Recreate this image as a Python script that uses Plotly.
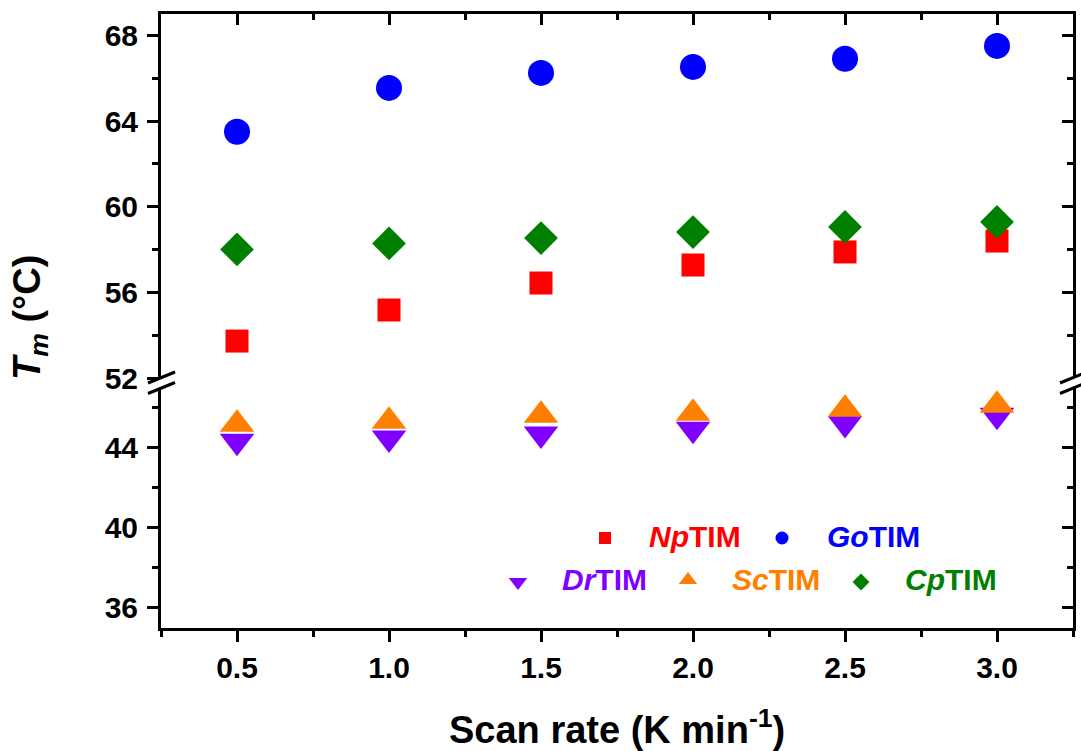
import plotly.graph_objects as go

# ---------------- data ----------------
rates = [0.5, 1.0, 1.5, 2.0, 2.5, 3.0]
np_tim = [53.73, 55.18, 56.44, 57.28, 57.89, 58.40]
go_tim = [63.50, 65.55, 66.25, 66.53, 66.91, 67.51]
dr_tim = [44.33, 44.50, 44.70, 44.93, 45.22, 45.64]
sc_tim = [45.19, 45.34, 45.64, 45.74, 45.94, 46.14]
cp_tim = [58.01, 58.29, 58.54, 58.82, 59.06, 59.29]

upper_ticks = [52, 56, 60, 64, 68]
lower_ticks = [36, 40, 44]
x_ticks = [0.5, 1.0, 1.5, 2.0, 2.5, 3.0]

series = [
    ("Np", np_tim, "square", "#FF0000", 23, "y2"),
    ("Go", go_tim, "circle", "#0000FF", 26, "y2"),
    ("Dr", dr_tim, "triangle-down", "#8000FF", 30, "y"),
    ("Sc", sc_tim, "triangle-up", "#FF8000", 30, "y"),
    ("Cp", cp_tim, "diamond", "#008000", 26, "y2"),
]

FONT = "Liberation Sans, Arial, sans-serif"
W, H = 1081, 751
ML, MR, MT, MB = 161, 8, 14, 123
PW, PH = W - ML - MR, H - MT - MB

def px(xp):
    return (xp - ML) / PW

def py(yp):
    return (H - MB - yp) / PH

fig = go.Figure()

for name, vals, sym, col, size, yax in series:
    fig.add_trace(go.Scatter(
        x=rates, y=vals, mode="markers", xaxis="x", yaxis=yax,
        marker=dict(symbol=sym, color=col, size=size, line=dict(width=0)),
        showlegend=False, name=name + "TIM"))

# invisible copies on the mirror axes so those axes are built and drawn
fig.add_trace(go.Scatter(x=rates, y=go_tim, mode="markers", xaxis="x2",
                         yaxis="y4", marker=dict(opacity=0),
                         showlegend=False, hoverinfo="skip"))
fig.add_trace(go.Scatter(x=rates, y=sc_tim, mode="markers", xaxis="x",
                         yaxis="y3", marker=dict(opacity=0),
                         showlegend=False, hoverinfo="skip"))

# ---------------- legend (manual) ----------------
legend_items = [
    ("Np", "square", "#FF0000", 12, 605, 538, 647, 536.5),
    ("Go", "circle", "#0000FF", 13, 782, 538, 825, 536.5),
    ("Dr", "triangle-down", "#8000FF", 16, 518, 582, 560, 579),
    ("Sc", "triangle-up", "#FF8000", 16, 688, 580, 730, 579),
    ("Cp", "diamond", "#008000", 13, 861, 582, 903, 579),
]
for name, sym, col, size, mx, my, tx, ty in legend_items:
    fig.add_trace(go.Scatter(
        x=[px(mx)], y=[py(my)], mode="markers", xaxis="x3", yaxis="y5",
        marker=dict(symbol=sym, color=col, size=size, line=dict(width=0)),
        showlegend=False, hoverinfo="skip"))
    fig.add_annotation(
        x=px(tx), y=py(ty), xref="paper", yref="paper",
        xanchor="left", yanchor="middle", showarrow=False,
        text=f"<b><i>{name}</i>TIM</b>",
        font=dict(family=FONT, size=30, color=col, weight="bold"))

axis_common = dict(showline=True, linecolor="black", linewidth=3,
                   showgrid=False, zeroline=False, ticklen=11, tickwidth=3,
                   tickcolor="black")

def minor(kind, dt, t0):
    return dict(ticks=kind, ticklen=6, tickwidth=3, dtick=dt, tick0=t0,
                tickcolor="black")

fig.update_layout(
    width=W, height=H,
    margin=dict(l=ML, r=MR, t=MT, b=MB),
    paper_bgcolor="white", plot_bgcolor="rgba(0,0,0,0)",
    font=dict(family=FONT, size=30, color="black", weight="bold"),
    xaxis=dict(domain=[0, 1], range=[0.25, 3.25], anchor="y", side="bottom",
               ticks="outside", tickvals=x_ticks,
               ticktext=[f"{v:.1f}" for v in x_ticks],
               minor=minor("outside", 0.25, 0.25), **axis_common),
    xaxis2=dict(domain=[0, 1], range=[0.25, 3.25], anchor="y2", side="top",
                overlaying="x", ticks="inside", tickvals=x_ticks,
                showticklabels=False,
                minor=minor("inside", 0.25, 0.25), **axis_common),
    yaxis=dict(domain=[0, 0.391], range=[35, 47], anchor="x", side="left",
               ticks="outside", tickvals=lower_ticks, ticklabelstandoff=3,
               minor=minor("outside", 2, 36), **axis_common),
    yaxis2=dict(domain=[0.407, 1], range=[52, 69], anchor="x", side="left",
                ticks="outside", tickvals=upper_ticks, ticklabelstandoff=3,
                minor=minor("outside", 2, 52), **axis_common),
    yaxis3=dict(range=[35, 47], anchor="x", side="right", overlaying="y",
                ticks="inside", tickvals=lower_ticks, showticklabels=False,
                minor=minor("inside", 2, 36), **axis_common),
    yaxis4=dict(range=[52, 69], anchor="x2", side="right", overlaying="y2",
                ticks="inside", tickvals=upper_ticks, showticklabels=False,
                minor=minor("inside", 2, 52), **axis_common),
    xaxis3=dict(domain=[0, 1], range=[0, 1], visible=False, anchor="y5"),
    yaxis5=dict(domain=[0, 1], range=[0, 1], visible=False, anchor="x3"),
)

# axis break marks
for xs in (ML, W - MR):
    for yc in (377.5, 388.0):
        fig.add_shape(type="line", xref="paper", yref="paper",
                      x0=px(xs - 13), y0=py(yc + 5.5),
                      x1=px(xs + 14), y1=py(yc - 5.5),
                      line=dict(color="black", width=3))

# axis titles
fig.add_annotation(
    x=0.5, y=py(727), xref="paper", yref="paper", showarrow=False,
    xanchor="center", yanchor="middle",
    text="<b>Scan rate (K min<sup>-1</sup>)</b>",
    font=dict(family=FONT, size=38, color="black", weight="bold"))
fig.add_annotation(
    x=px(30), y=py(318), xref="paper", yref="paper", showarrow=False,
    xanchor="center", yanchor="middle", textangle=-90,
    text="<b><i>T</i><sub><i>m</i></sub> (°C)</b>",
    font=dict(family=FONT, size=38, color="black", weight="bold"))

fig.write_html("out.html")
